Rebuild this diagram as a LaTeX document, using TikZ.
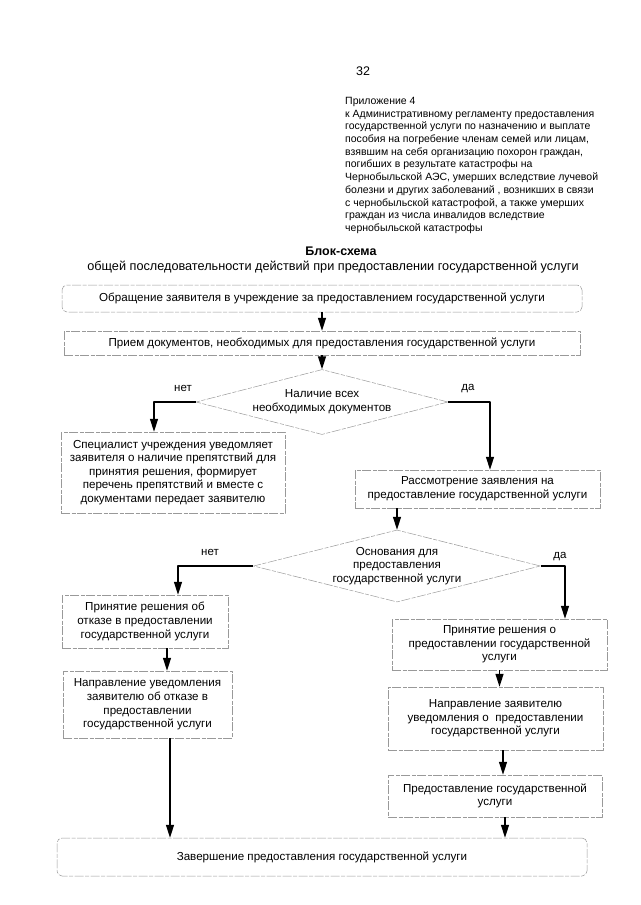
\documentclass[tikz,border=0pt]{standalone}
\usepackage{fontspec}
\setmainfont{Liberation Sans}
\usetikzlibrary{shapes.geometric,arrows.meta}
\begin{document}
\begin{tikzpicture}[x=1pt,y=-1pt,line join=round,
  box/.style={draw=black!40,line width=.5pt,dash pattern=on 9pt off 1.5pt on 4pt off 1.5pt,
    align=center,inner sep=0pt,font=\fontsize{11.6}{13.6}\selectfont},
  dia/.style={box,diamond,shape aspect=4},
  arr/.style={line width=1.5pt,-{Triangle[length=13pt,width=8pt]}},
  lbl/.style={font=\fontsize{11.5}{13}\selectfont}]
  \useasboundingbox (0,0) rectangle (640,905);
  \node (num) at (363,71) {\fontsize{12.5}{14}\selectfont 32};
  \node[anchor=north west,align=left,inner sep=0pt,font=\fontsize{10.5}{12.7}\selectfont] (att) at (345,97)
    {Приложение 4\\
     к Административному регламенту предоставления\\
     государственной услуги по назначению и выплате\\
     пособия на погребение членам семей или лицам,\\
     взявшим на себя организацию похорон граждан,\\
     погибших в результате катастрофы на\\
     Чернобыльской АЭС, умерших вследствие лучевой\\
     болезни и других заболеваний , возникших в связи\\
     с чернобыльской катастрофой, а также умерших\\
     граждан из числа инвалидов вследствие\\
     чернобыльской катастрофы};
  \node[font=\bfseries\fontsize{12.5}{14}\selectfont] (ttl) at (341,251) {Блок-схема};
  \node[font=\fontsize{12.7}{14}\selectfont] (sub) at (333,267)
    {общей последовательности действий при предоставлении государственной услуги};
  \node[box,rounded corners=5pt,minimum width=520pt,minimum height=27pt] (b1) at (322,298.5)
    {Обращение заявителя в учреждение за предоставлением государственной услуги};
  \node[box,minimum width=516pt,minimum height=24pt] (b2) at (322,343)
    {Прием документов, необходимых для предоставления государственной услуги};
  \node[dia,minimum width=252pt,minimum height=65pt] (d1) at (322,402)
    {Наличие всех\\необходимых документов};
  \node[box,minimum width=224pt,minimum height=81pt] (b3) at (173,472.5)
    {Специалист учреждения уведомляет\\заявителя о наличие препятствий для\\принятия решения, формирует\\перечень препятствий и вместе с\\документами передает заявителю};
  \node[box,minimum width=245pt,minimum height=38pt] (b4) at (477.5,489)
    {Рассмотрение заявления на\\предоставление государственной услуги};
  \node[dia,inner sep=-4pt,minimum width=287pt,minimum height=72pt] (d2) at (397,566)
    {Основания для\\предоставления\\государственной услуги};
  \node[box,minimum width=166pt,minimum height=53pt] (b5) at (145,621.5)
    {Принятие решения об\\отказе в предоставлении\\государственной услуги};
  \node[box,minimum width=169pt,minimum height=67pt] (b6) at (147.5,704.5)
    {Направление уведомления\\заявителю об отказе в\\предоставлении\\государственной услуги};
  \node[box,minimum width=215pt,minimum height=51pt] (b7) at (499.5,644.5)
    {Принятие решения о\\предоставлении государственной\\услуги};
  \node[box,minimum width=215pt,minimum height=63pt] (b8) at (495.5,718.5)
    {Направление заявителю\\уведомления о\ \ предоставлении\\государственной услуги};
  \node[box,minimum width=214pt,minimum height=42pt] (b9) at (495,796)
    {Предоставление государственной\\услуги};
  \node[box,rounded corners=5pt,minimum width=530pt,minimum height=38pt] (b10) at (322,857)
    {Завершение предоставления государственной услуги};
  \node[lbl] (no1) at (183,388) {нет};
  \node[lbl] (yes1) at (468,389) {да};
  \node[lbl] (no2) at (210,552) {нет};
  \node[lbl] (yes2) at (560,557) {да};
  \draw[arr] (b1.south) -- (b1.south |- b2.north);
  \draw[arr] (b2.south) -- (b2.south |- d1.north);
  \draw[arr] (d1.west) -| ([xshift=-19pt]b3.north);
  \draw[arr] (d1.east) -| ([xshift=12.5pt]b4.north);
  \draw[arr] (d2.north |- b4.south) -- (d2.north);
  \draw[arr] (d2.west) -| ([xshift=33pt]b5.north);
  \draw[arr] (d2.east) -| ([xshift=65.5pt]b7.north);
  \draw[arr] ([xshift=22pt]b5.south) -- ([xshift=22pt]b5.south |- b6.north);
  \draw[arr] ([xshift=22.5pt]b6.south) -- ([xshift=22.5pt]b6.south |- b10.north);
  \draw[arr] (b7.south) -- (b7.south |- b8.north);
  \draw[arr] ([xshift=7.5pt]b8.south) -- ([xshift=7.5pt]b8.south |- b9.north);
  \draw[arr] ([xshift=10pt]b9.south) -- ([xshift=10pt]b9.south |- b10.north);
\end{tikzpicture}
\end{document}
